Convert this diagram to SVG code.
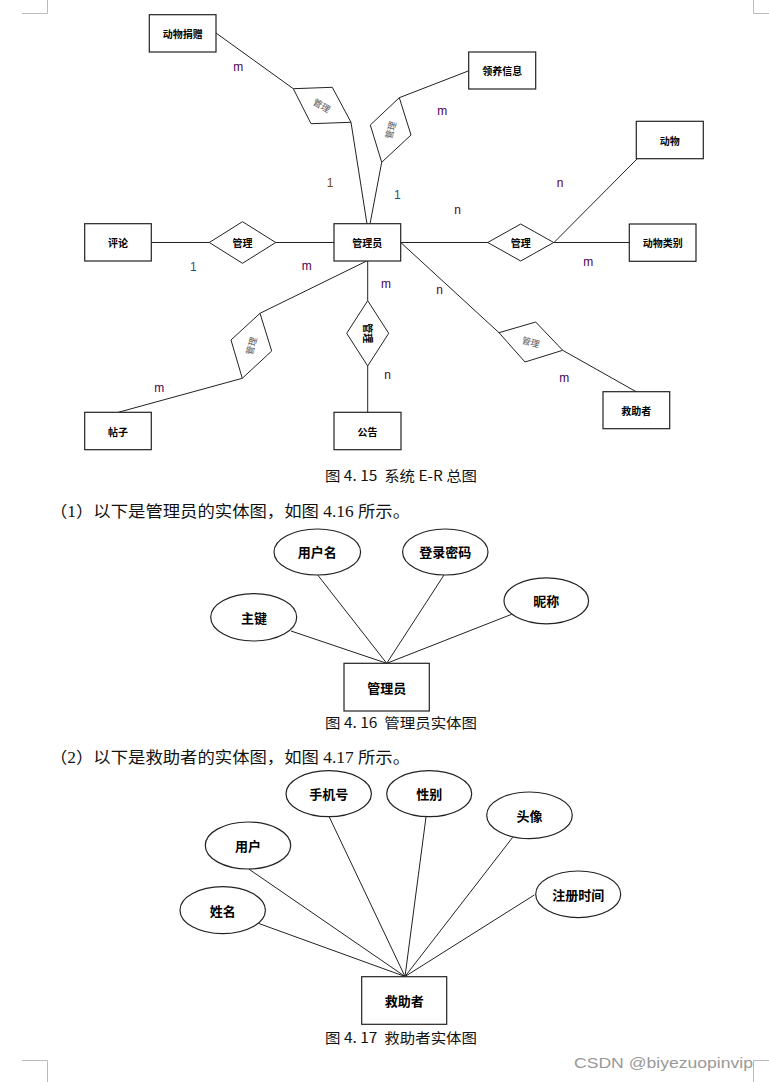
<svg xmlns="http://www.w3.org/2000/svg" width="769" height="1082" viewBox="0 0 769 1082">
<style>
.box{fill:#fff;stroke:#222;stroke-width:1.2}
.ell{fill:#fff;stroke:#222;stroke-width:1.2}
.dia{fill:#fff;stroke:#222;stroke-width:1}
.ln{stroke:#222;stroke-width:1;fill:none}
.t10{font-family:"Noto Sans CJK SC","Liberation Sans",sans-serif;font-size:10px;font-weight:bold;fill:#000;text-anchor:middle;dominant-baseline:central}
.t13{font-family:"Noto Sans CJK SC","Liberation Sans",sans-serif;font-size:13px;font-weight:bold;fill:#000;text-anchor:middle;dominant-baseline:central}
.rt{font-family:"Noto Sans CJK SC","Liberation Sans",sans-serif;font-size:9px;fill:#555;text-anchor:middle;dominant-baseline:central}
.lab{font-family:"Liberation Sans",Arial,sans-serif;font-size:12px;text-anchor:middle;dominant-baseline:central}
.m{fill:#4a0050}
.n{fill:#600018}
.one{fill:#1f4e79}
.oneb{fill:#7a4a00}
.cap{font-family:"Noto Sans CJK SC","Liberation Sans",sans-serif;font-size:14px;fill:#111;dominant-baseline:central;white-space:pre}
.para{font-family:"Liberation Serif","Noto Sans CJK SC",serif;font-size:16px;fill:#111;dominant-baseline:central}
.crn{stroke:#bbb;stroke-width:1;fill:none}
</style>

<g id="corners">
<path class="crn" d="M22,13.5H47.5V0"/>
<path class="crn" d="M769,13.5H753.5V0"/>
<path class="crn" d="M22,1060.5H47.5V1082"/>
<path class="crn" d="M769,1060.5H753.5V1082"/>
</g>

<g id="connectors">
<line class="ln" x1="216" y1="33" x2="293.3" y2="88.7"/>
<line class="ln" x1="351" y1="122.3" x2="367" y2="224"/>
<line class="ln" x1="469" y1="70.7" x2="399.3" y2="97.7"/>
<line class="ln" x1="381.7" y1="162.3" x2="370" y2="224"/>
<line class="ln" x1="151" y1="242.5" x2="209.5" y2="242.5"/>
<line class="ln" x1="275.5" y1="242.5" x2="334" y2="242.5"/>
<line class="ln" x1="401" y1="242.5" x2="488" y2="242.5"/>
<line class="ln" x1="554" y1="242.5" x2="629" y2="242.5"/>
<line class="ln" x1="554" y1="242.5" x2="637.3" y2="158.7"/>
<line class="ln" x1="401" y1="242.7" x2="499" y2="332.7"/>
<line class="ln" x1="562.7" y1="350.3" x2="636.7" y2="392"/>
<line class="ln" x1="367.7" y1="261" x2="367.7" y2="300.7"/>
<line class="ln" x1="367.7" y1="366" x2="367.7" y2="412.3"/>
<line class="ln" x1="366.7" y1="261" x2="260" y2="313.3"/>
<line class="ln" x1="242.3" y1="378.3" x2="118.3" y2="412.3"/>
<line class="ln" x1="291" y1="631" x2="386.7" y2="663.3"/>
<line class="ln" x1="317.3" y1="574.5" x2="386.7" y2="663.3"/>
<line class="ln" x1="444.3" y1="574.5" x2="386.7" y2="663.3"/>
<line class="ln" x1="511.7" y1="614.3" x2="386.7" y2="663.3"/>
<line class="ln" x1="258.3" y1="923.3" x2="405" y2="976.5"/>
<line class="ln" x1="248.7" y1="869" x2="405" y2="976.5"/>
<line class="ln" x1="329.3" y1="817" x2="405" y2="976.5"/>
<line class="ln" x1="426" y1="817" x2="405" y2="976.5"/>
<line class="ln" x1="512.7" y1="837.3" x2="405" y2="976.5"/>
<line class="ln" x1="534.3" y1="895" x2="405" y2="976.5"/>
</g>

<g id="labels">
<text class="lab m" x="238.3" y="67">m</text>
<text class="lab m" x="442.3" y="111">m</text>
<text class="lab oneb" x="330" y="182.7">1</text>
<text class="lab one" x="397.3" y="195">1</text>
<text class="lab n" x="457.5" y="210">n</text>
<text class="lab n" x="560" y="182.7">n</text>
<text class="lab m" x="588.3" y="262">m</text>
<text class="lab one" x="193.3" y="266.7">1</text>
<text class="lab m" x="306.7" y="266">m</text>
<text class="lab m" x="386" y="284">m</text>
<text class="lab n" x="439.5" y="290">n</text>
<text class="lab m" x="159.3" y="388">m</text>
<text class="lab n" x="387.7" y="375">n</text>
<text class="lab m" x="564.3" y="378.3">m</text>
</g>

<g id="n-dongwujuanzeng"><rect class="box" x="149.3" y="14.7" width="66.7" height="37.3"/><text class="t10" x="182.7" y="33.3">动物捐赠</text></g>
<g id="n-lingyangxinxi"><rect class="box" x="468.7" y="52" width="67" height="37"/><text class="t10" x="502.2" y="70.5">领养信息</text></g>
<g id="n-pinglun"><rect class="box" x="84.7" y="223.7" width="66.6" height="37.3"/><text class="t10" x="118" y="242.3">评论</text></g>
<g id="n-guanliyuan"><rect class="box" x="334" y="223.7" width="66.7" height="37.3"/><text class="t10" x="367.3" y="242.3">管理员</text></g>
<g id="n-dongwu"><rect class="box" x="636.3" y="121.3" width="67" height="37.4"/><text class="t10" x="669.8" y="140">动物</text></g>
<g id="n-dongwuleibie"><rect class="box" x="629.3" y="224" width="66.7" height="37.3"/><text class="t10" x="662.7" y="242.7">动物类别</text></g>
<g id="n-tiezi"><rect class="box" x="84.7" y="412.3" width="66.6" height="37.4"/><text class="t10" x="118" y="431">帖子</text></g>
<g id="n-gonggao"><rect class="box" x="334" y="412.3" width="67" height="37.4"/><text class="t10" x="367.5" y="431">公告</text></g>
<g id="n-jiuzhuzhe"><rect class="box" x="603" y="391.7" width="66.7" height="37"/><text class="t10" x="636.3" y="410.2">救助者</text></g>

<g id="r-left"><polygon class="dia" points="209.3,242.5 242.5,221.7 275.7,242.5 242.5,263.3"/><text class="t10" x="242.5" y="242.5">管理</text></g>
<g id="r-right"><polygon class="dia" points="487.7,242.5 520.7,224 553.7,242.5 520.7,261"/><text class="t10" x="520.7" y="242.5">管理</text></g>
<g id="r-juanzeng"><polygon class="dia" points="293.3,88.7 332.3,87.3 351,122.3 311,123.7"/><text class="rt" transform="translate(321.7,105.5) rotate(30)">管理</text></g>
<g id="r-lingyang"><polygon class="dia" points="399.3,97.7 411,135 381.7,162.3 370.3,125"/><text class="rt" transform="translate(390.5,130) rotate(-75)">管理</text></g>
<g id="r-tiezi"><polygon class="dia" points="260,313.3 271.7,351 242.3,378.3 231,340"/><text class="rt" transform="translate(251.3,345.8) rotate(-75)">管理</text></g>
<g id="r-gonggao"><polygon class="dia" points="367.7,300.7 388.7,333.3 367.7,366 346.7,333.3"/><text class="t10" transform="translate(368.5,333.3) rotate(90)">管理</text></g>
<g id="r-jiuzhu"><polygon class="dia" points="499,332.7 535.7,322 562.7,350.3 525,362"/><text class="rt" transform="translate(530.8,342) rotate(16)">管理</text></g>

<text class="cap" x="325" y="475" textLength="152" lengthAdjust="spacingAndGlyphs" xml:space="preserve">图 4. 15  系统 E-R 总图</text>
<text class="para" x="50" y="511" textLength="360" lengthAdjust="spacingAndGlyphs">（1）以下是管理员的实体图，如图 4.16 所示。</text>

<g id="a-yonghuming"><ellipse class="ell" cx="317.3" cy="552" rx="43.3" ry="23"/><text class="t13" x="317.3" y="551">用户名</text></g>
<g id="a-denglumima"><ellipse class="ell" cx="445.3" cy="552" rx="42.7" ry="23"/><text class="t13" x="445.3" y="551">登录密码</text></g>
<g id="a-zhujian"><ellipse class="ell" cx="253.7" cy="617.3" rx="43" ry="23.7"/><text class="t13" x="254" y="617">主键</text></g>
<g id="a-nicheng"><ellipse class="ell" cx="546.3" cy="600.8" rx="42.3" ry="23"/><text class="t13" x="546.3" y="600">昵称</text></g>
<g id="e-guanliyuan"><rect class="box" x="344" y="663.3" width="85.3" height="47.7"/><text class="t13" x="386.7" y="687.5">管理员</text></g>
<text class="cap" x="325" y="722" textLength="152" lengthAdjust="spacingAndGlyphs" xml:space="preserve">图 4. 16  管理员实体图</text>

<text class="para" x="50" y="757" textLength="360" lengthAdjust="spacingAndGlyphs">（2）以下是救助者的实体图，如图 4.17 所示。</text>

<g id="a-shoujihao"><ellipse class="ell" cx="328.7" cy="793.7" rx="42.7" ry="23"/><text class="t13" x="328.7" y="793">手机号</text></g>
<g id="a-xingbie"><ellipse class="ell" cx="429.2" cy="793.7" rx="42.5" ry="23"/><text class="t13" x="429.2" y="793">性别</text></g>
<g id="a-touxiang"><ellipse class="ell" cx="529.5" cy="815.3" rx="42.8" ry="23.3"/><text class="t13" x="529.5" y="815">头像</text></g>
<g id="a-yonghu"><ellipse class="ell" cx="248" cy="845.5" rx="42.7" ry="23.5"/><text class="t13" x="248" y="845">用户</text></g>
<g id="a-zhuceshijian"><ellipse class="ell" cx="578.2" cy="894.3" rx="42.5" ry="23.3"/><text class="t13" x="578.2" y="894">注册时间</text></g>
<g id="a-xingming"><ellipse class="ell" cx="222.7" cy="910.2" rx="42.7" ry="23.5"/><text class="t13" x="222.7" y="910">姓名</text></g>
<g id="e-jiuzhuzhe"><rect class="box" x="361.7" y="976.7" width="85" height="47.6"/><text class="t13" x="404.2" y="1000.5">救助者</text></g>
<text class="cap" x="325" y="1036.7" textLength="152" lengthAdjust="spacingAndGlyphs" xml:space="preserve">图 4. 17  救助者实体图</text>

<text x="574" y="1063" font-family="Liberation Sans,Arial,sans-serif" font-size="14.5" fill="#999" dominant-baseline="central" textLength="179" lengthAdjust="spacingAndGlyphs">CSDN @biyezuopinvip</text>
</svg>
